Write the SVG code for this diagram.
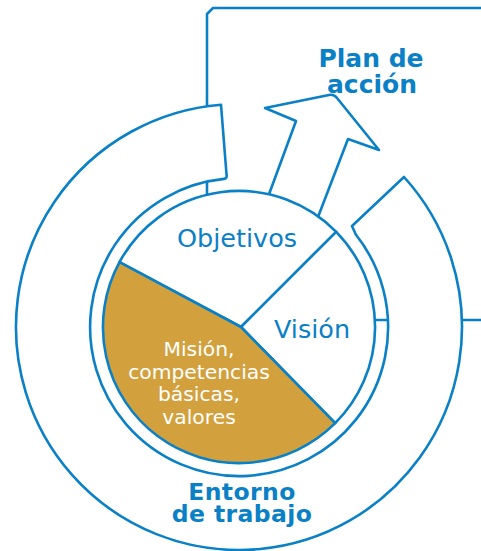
<svg xmlns="http://www.w3.org/2000/svg" width="481" height="551" viewBox="0 0 481 551">
<style>
.ln{fill:#fff;stroke:#0a80c6;stroke-width:2.6;stroke-linejoin:round}
.gold{fill:#d2a13e;stroke:#0a80c6;stroke-width:2.6;stroke-linejoin:round}
.bt{font-family:"DejaVu Sans","Verdana",sans-serif;font-weight:bold;font-size:25px;fill:#0a80c6;text-anchor:middle}
.bt2{font-family:"DejaVu Sans","Verdana",sans-serif;font-weight:bold;font-size:23.5px;letter-spacing:0.4px;fill:#0a80c6;text-anchor:middle}
.rt{font-family:"DejaVu Sans","Verdana",sans-serif;font-size:25.5px;fill:#0a80c6;text-anchor:middle}
.wt{font-family:"DejaVu Sans","Verdana",sans-serif;font-size:20.3px;fill:#fff;text-anchor:middle}
</style>
<rect width="481" height="551" fill="#fff"/>
<g id="plan-box">
<path class="ln" d="M207,330 V14 L213,8 H490 V320 H207"/>
</g>
<g id="entorno">
<path class="ln" d="M221,104.7 L226.6,175.5 Q227,178.6 224,178.9 A149,149 0 1 0 355.8,234.5 L352,226 L404,177 A223,223 0 1 1 221,104.7 Z"/>
</g>
<g id="plan-arrow">
<path class="ln" d="M268,197 L296,121 L265,108 L329,95 Q334,94 337,98 L379,150 L348,139 L318,217 Z"/>
</g>
<g id="pie">
<g id="objetivos"><path class="ln" d="M241,327 L119.5,262.1 A136,136 0 0 1 336.2,231.8 Z"/></g>
<g id="vision"><path class="ln" d="M241,327 L336.2,231.8 A136,136 0 0 1 335.2,423.2 Z"/></g>
<g id="mision"><path class="gold" d="M241,327 L119.5,262.1 A136,136 0 0 0 335.2,423.2 Z"/></g>
</g>
<g id="labels">
<text class="bt" x="371" y="67">Plan de</text>
<text class="bt" x="372" y="93">acción</text>
<text class="bt2" x="242" y="500">Entorno</text>
<text class="bt2" x="242" y="522">de trabajo</text>
<text class="rt" x="237" y="247">Objetivos</text>
<text class="rt" x="312" y="338">Visión</text>
<text class="wt" x="199" y="356">Misión,</text>
<text class="wt" x="199" y="378.5">competencias</text>
<text class="wt" x="199" y="401">básicas,</text>
<text class="wt" x="199" y="423.5">valores</text>
</g>
</svg>
